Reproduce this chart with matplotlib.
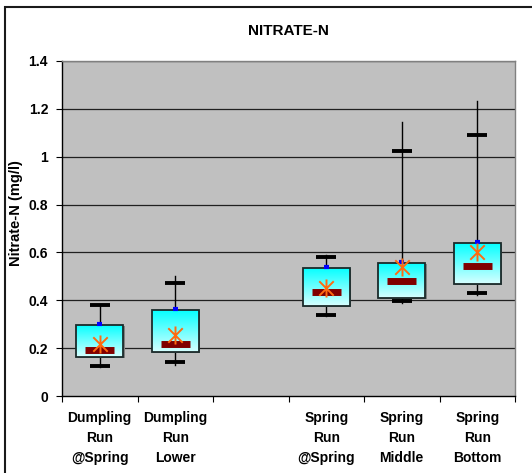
import numpy as np
import matplotlib
matplotlib.use("Agg")
import matplotlib.pyplot as plt
from matplotlib.patches import Rectangle
from matplotlib.path import Path

plt.rcParams['font.family'] = ['Liberation Sans', 'DejaVu Sans']

# Site labels (third slot is intentionally empty)
categories = ["Dumpling\nRun\n@Spring", "Dumpling\nRun\nLower", "",
              "Spring\nRun\n@Spring", "Spring\nRun\nMiddle", "Spring\nRun\nBottom"]
positions = [0, 1, 3, 4, 5]

# Box statistics for each plotted site (mg/l)
whisker_min = [0.120, 0.130, 0.335, 0.389, 0.422]
p10 = [0.125, 0.142, 0.338, 0.397, 0.430]
q1 = [0.163, 0.184, 0.376, 0.410, 0.468]
median = [0.192, 0.217, 0.435, 0.480, 0.543]
mean = [0.217, 0.255, 0.451, 0.540, 0.602]
q3 = [0.297, 0.360, 0.535, 0.557, 0.641]
p90 = [0.380, 0.472, 0.581, 1.024, 1.090]
whisker_max = [0.380, 0.500, 0.590, 1.145, 1.233]

yticks = [0, 0.2, 0.4, 0.6, 0.8, 1, 1.2, 1.4]
ytick_labels = ["0", "0.2", "0.4", "0.6", "0.8", "1", "1.2", "1.4"]

fig = plt.figure(figsize=(5.32, 4.73), dpi=100)
fig.patch.set_facecolor("white")
# Chart frame (runs past the right and bottom edges)
fig.patches.append(Rectangle((5 / 532, -10 / 473), 540 / 532, 476 / 473,
                             transform=fig.transFigure, fill=False,
                             edgecolor="#1a1a1a", linewidth=1.5))

ax = fig.add_axes([62 / 532, 1 - 396 / 473, 453 / 532, 335 / 473])
ax.set_facecolor("#c0c0c0")
ax.set_xlim(0, 6)
ax.set_ylim(0, 1.4)

for y in yticks[1:]:
    ax.axhline(y, color="#202020", linewidth=0.9, zorder=1)

# Asterisk marker: vertical stroke plus an X
star = Path([(0, -1), (0, 1), (-0.8, -0.8), (0.8, 0.8), (-0.8, 0.8), (0.8, -0.8)],
            [Path.MOVETO, Path.LINETO, Path.MOVETO, Path.LINETO, Path.MOVETO, Path.LINETO])

grad = np.linspace(0, 1, 256).reshape(-1, 1)
cyan_map = matplotlib.colors.LinearSegmentedColormap.from_list("cy", ["#d8ffff", "#00ffff"])
box_w = 0.62
cap_w = 0.27
med_w = 0.38

for i, p in enumerate(positions):
    c = p + 0.5
    ax.plot([c, c], [whisker_min[i], whisker_max[i]], color="black", lw=1.0, zorder=2)
    for v in (p10[i], p90[i]):
        ax.plot([c - cap_w / 2, c + cap_w / 2], [v, v], color="black", lw=2.8,
                solid_capstyle="butt", zorder=3)
    x0, x1 = c - box_w / 2, c + box_w / 2
    # shadow
    ax.add_patch(Rectangle((x0 + 0.02, q1[i] - 0.006), box_w, q3[i] - q1[i],
                           facecolor="#808080", edgecolor="none", zorder=3))
    rect = Rectangle((x0, q1[i]), box_w, q3[i] - q1[i], facecolor="none",
                     edgecolor="#1a2a2a", linewidth=1.3, zorder=5)
    ax.add_patch(rect)
    img = ax.imshow(grad, extent=[x0, x1, q1[i], q3[i]], aspect="auto",
                    cmap=cyan_map, origin="lower", zorder=4)
    img.set_clip_path(rect)
    ax.plot([c - med_w / 2, c + med_w / 2], [median[i], median[i]], color="#800000",
            lw=5, solid_capstyle="butt", zorder=6)
    ax.plot([c - 0.035, c + 0.035], [q3[i] + 0.004, q3[i] + 0.004], color="#0000ff",
            lw=3, solid_capstyle="butt", zorder=6)
    ax.plot([c], [mean[i]], marker=star, markersize=13, markeredgewidth=1.4,
            color="#ff6a10", linestyle="none", zorder=7)

ax.set_yticks(yticks)
ax.set_yticklabels(ytick_labels, fontsize=10, fontweight="bold")
ax.set_xticks(range(7))
ax.set_xticklabels([])
ax.set_xticks([k + 0.5 for k in range(6)], minor=True)
ax.set_xticklabels(categories, minor=True, fontsize=10, fontweight="bold",
                   linespacing=1.55)
ax.tick_params(axis="x", which="minor", length=0, pad=11)
ax.tick_params(axis="x", which="major", length=4, direction="out", color="black")
ax.tick_params(axis="y", length=4, direction="out", pad=6)

for side in ("top", "right"):
    ax.spines[side].set_color("#808080")
    ax.spines[side].set_linewidth(1.0)
for side in ("left", "bottom"):
    ax.spines[side].set_color("black")
    ax.spines[side].set_linewidth(1.0)

ax.set_ylabel("Nitrate-N (mg/l)", fontsize=10.5, fontweight="bold")
ax.yaxis.set_label_coords(-0.085, 0.546)
fig.text(288 / 532, 1 - 31 / 473, "NITRATE-N", ha="center", va="center",
         fontsize=11, fontweight="bold")

fig.savefig("out.png", dpi=100, facecolor="white")
